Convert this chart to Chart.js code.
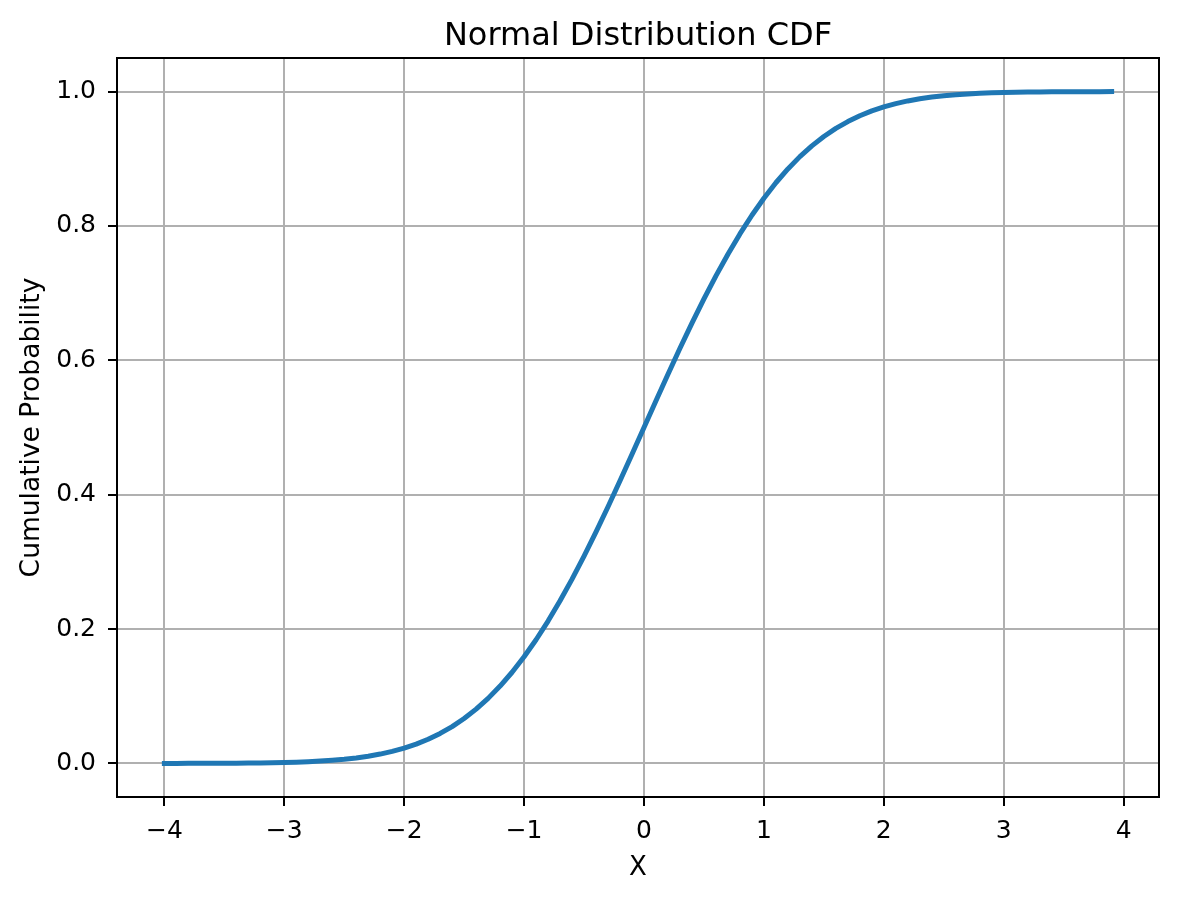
<!DOCTYPE html>
<html lang="en">
<head>
    <meta charset="UTF-8">
    <title>Normal Distribution CDF</title>
    <script src="https://cdn.jsdelivr.net/npm/chart.js@4.4.0/dist/chart.umd.min.js"></script>
    <style>
        html, body { margin: 0; padding: 0; background: #fff; }
        #cdf-chart { display: block; }
    </style>
</head>
<body>
    <canvas id="cdf-chart" width="1177" height="898"></canvas>

    <script>
        // x values sampled every 0.1 from -4 to 3.9
        const xValues = [
            -4.0, -3.9, -3.8, -3.7, -3.6, -3.5, -3.4, -3.3, -3.2, -3.1,
            -3.0, -2.9, -2.8, -2.7, -2.6, -2.5, -2.4, -2.3, -2.2, -2.1,
            -2.0, -1.9, -1.8, -1.7, -1.6, -1.5, -1.4, -1.3, -1.2, -1.1,
            -1.0, -0.9, -0.8, -0.7, -0.6, -0.5, -0.4, -0.3, -0.2, -0.1,
            0.0, 0.1, 0.2, 0.3, 0.4, 0.5, 0.6, 0.7, 0.8, 0.9,
            1.0, 1.1, 1.2, 1.3, 1.4, 1.5, 1.6, 1.7, 1.8, 1.9,
            2.0, 2.1, 2.2, 2.3, 2.4, 2.5, 2.6, 2.7, 2.8, 2.9,
            3.0, 3.1, 3.2, 3.3, 3.4, 3.5, 3.6, 3.7, 3.8, 3.9
        ];
        // cumulative probability at each x
        const cdfValues = [
            0.0000, 0.0000, 0.0001, 0.0001, 0.0002, 0.0002, 0.0003, 0.0005, 0.0007, 0.0010,
            0.0013, 0.0019, 0.0026, 0.0035, 0.0047, 0.0062, 0.0082, 0.0107, 0.0139, 0.0179,
            0.0228, 0.0287, 0.0359, 0.0446, 0.0548, 0.0668, 0.0808, 0.0968, 0.1151, 0.1357,
            0.1587, 0.1841, 0.2119, 0.2420, 0.2743, 0.3085, 0.3446, 0.3821, 0.4207, 0.4602,
            0.5000, 0.5398, 0.5793, 0.6179, 0.6554, 0.6915, 0.7257, 0.7580, 0.7881, 0.8159,
            0.8413, 0.8643, 0.8849, 0.9032, 0.9192, 0.9332, 0.9452, 0.9554, 0.9641, 0.9713,
            0.9772, 0.9821, 0.9861, 0.9893, 0.9918, 0.9938, 0.9953, 0.9965, 0.9974, 0.9981,
            0.9987, 0.9990, 0.9993, 0.9995, 0.9997, 0.9998, 0.9998, 0.9999, 0.9999, 1.0000
        ];
        const xTicks = [-4, -3, -2, -1, 0, 1, 2, 3, 4];
        const yTicks = [0.0, 0.2, 0.4, 0.6, 0.8, 1.0];
        const chartTitle = 'Normal Distribution CDF';

        const FONT = "'DejaVu Sans', sans-serif";
        Chart.defaults.color = '#000';
        Chart.defaults.font.family = FONT;

        // spines all round + title centred over the plot area (matplotlib style)
        const frame = {
            id: 'frame',
            afterDatasetsDraw(chart) {
                const { ctx, chartArea: a } = chart;
                ctx.save();
                ctx.strokeStyle = '#000';
                ctx.lineWidth = 2;
                ctx.strokeRect(a.left, a.top, a.right - a.left, a.bottom - a.top);
                ctx.fillStyle = '#000';
                ctx.font = '32px ' + FONT;
                ctx.textAlign = 'center';
                ctx.textBaseline = 'alphabetic';
                ctx.fillText(chartTitle, (a.left + a.right) / 2, a.top - 13);
                ctx.restore();
            }
        };

        const minus = v => (v < 0 ? '\u2212' + Math.abs(v) : String(v));

        new Chart(document.getElementById('cdf-chart'), {
            type: 'line',
            data: {
                datasets: [{
                    data: xValues.map((x, i) => ({ x: x, y: cdfValues[i] })),
                    borderColor: '#1f77b4',
                    borderWidth: 5,
                    borderCapStyle: 'square',
                    borderJoinStyle: 'round',
                    pointRadius: 0,
                    tension: 0,
                    fill: false
                }]
            },
            options: {
                responsive: false,
                animation: false,
                layout: { padding: { left: 0, right: 18, top: 58, bottom: 0 } },
                plugins: {
                    legend: { display: false },
                    tooltip: { enabled: false },
                    title: { display: false }
                },
                scales: {
                    x: {
                        type: 'linear',
                        min: -4.395,
                        max: 4.295,
                        afterBuildTicks: s => { s.ticks = xTicks.map(v => ({ value: v })); },
                        afterFit: s => { s.height = 101; },
                        ticks: {
                            font: { size: 25 },
                            padding: 10,
                            callback: v => minus(v)
                        },
                        grid: { color: '#b0b0b0', lineWidth: 2, tickColor: '#000', tickWidth: 2, tickLength: 9 },
                        border: { display: true, color: '#000', width: 2 },
                        title: { display: true, text: 'X', font: { size: 26 }, padding: { top: 0, bottom: 14 } }
                    },
                    y: {
                        type: 'linear',
                        min: -0.05,
                        max: 1.05,
                        afterBuildTicks: s => { s.ticks = yTicks.map(v => ({ value: v })); },
                        afterFit: s => { s.width = 117; },
                        ticks: {
                            font: { size: 25 },
                            padding: 12,
                            callback: v => v.toFixed(1)
                        },
                        grid: { color: '#b0b0b0', lineWidth: 2, tickColor: '#000', tickWidth: 2, tickLength: 9 },
                        border: { display: true, color: '#000', width: 2 },
                        title: { display: true, text: 'Cumulative Probability', font: { size: 26.5 }, padding: { top: 16, bottom: 0 } }
                    }
                }
            },
            plugins: [frame]
        });
    </script>
</body>
</html>
